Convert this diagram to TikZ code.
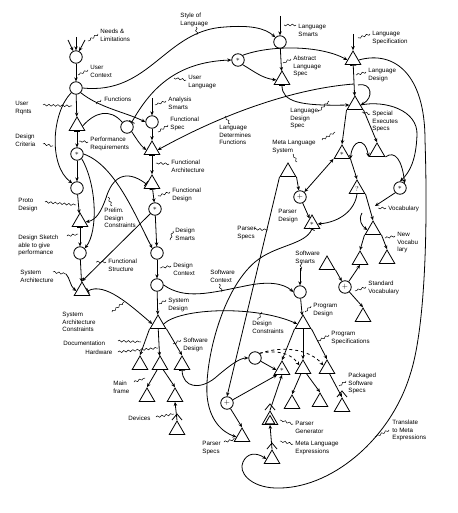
\documentclass[tikz,border=0pt]{standalone}
\usepackage{fontspec}
\setsansfont{Liberation Sans}
\usetikzlibrary{arrows.meta,shapes.geometric,decorations.pathmorphing}
\tikzset{
 circ/.style={circle,draw,minimum size=12.5pt,inner sep=0pt},
 tri/.style={regular polygon,regular polygon sides=3,draw,minimum size=18pt,inner sep=0pt},
 lbl/.style={font=\sffamily\fontsize{6.2}{7.4}\selectfont,align=left,anchor=north west,inner sep=0pt},
 arr/.style={-{Stealth[length=4pt,width=3.5pt]}},
 barr/.style={{Bar[width=6pt]}-{Stealth[length=4pt,width=3.5pt]}},
 dblarr/.style={{Stealth[length=4pt,width=3.5pt]}-{Stealth[length=4pt,width=3.5pt]}},
 lead/.style={decorate,decoration={snake,amplitude=0.9pt,segment length=4.5pt},line width=0.5pt},
 sym/.style={font=\fontsize{7}{7}\selectfont}
}
\newcommand{\chev}[2]{\draw (#1-5,#2-10) -- (#1,#2-16) -- (#1+5,#2-10);}
\begin{document}
\begin{tikzpicture}[x=1pt,y=-1pt,line width=0.8pt]
\useasboundingbox (0,0) rectangle (457,513);
% ---- nodes: left column
\node[circ] (c1) at (76,57) {};
\node[circ] (c2) at (76,88) {};
\node[tri] (t1) at (77,126) {};
\node[circ,sym] (c3) at (77,154) {$\ast$};
\node[circ] (c4) at (77,188) {};
\node[tri] (t2) at (80,222) {};
\node[circ] (c5) at (80,253) {};
\node[tri] (t3) at (82,291) {};
% ---- middle column
\node[circ] (c6) at (152,122) {};
\node[circ] (c7) at (127,127) {};
\node[tri] (t4) at (152,150) {};
\node[tri] (t5) at (152,184) {};
\node[circ,sym] (c8) at (155,209) {$\ast$};
\node[circ] (c9) at (157,253) {};
\node[circ] (c10) at (157,285) {};
\node[tri] (t6) at (158,324) {};
\node[tri] (t6a) at (140,365) {};
\node[tri] (t6b) at (160,365) {};
\node[tri] (t6c) at (182,365) {};
\node[tri] (t6d) at (147,397) {};
\node[tri] (t6e) at (175,397) {};
\node[tri] (t6f) at (177,430) {};
\chev{177}{430}
% ---- language part
\node[circ] (c11) at (280,42) {};
\node[circ,sym] (c12) at (238,60) {$\ast$};
\node[tri] (t7) at (282,80) {};
\node[tri] (t8) at (353,60) {};
\node[tri] (t9) at (355,105) {};
\node[tri,sym] (t10) at (342,154) {$\ast$};
\node[tri] (t11) at (377,152) {};
\node[tri] (t12) at (288,172) {};
\node[tri,sym] (t13) at (357,189) {?};
\node[circ,sym] (c13) at (300,197) {+};
\node[circ,sym] (c14) at (400,188) {$\ast$};
\node[tri,sym] (t14) at (312,224) {$\ast$};
\node[tri] (t15) at (373,230) {};
\node[tri] (t16) at (360,260) {};
\node[tri] (t17) at (387,259) {};
\node[tri] (t18) at (327,265) {};
\node[circ,sym] (c15) at (345,287) {+};
\node[tri] (t19) at (363,317) {};
% ---- program part
\node[circ] (c16) at (300,292) {};
\node[tri] (t20) at (303,324) {};
\node[circ] (c17) at (255,358) {};
\node[tri,sym] (t20a) at (282,370) {$\ast$};
\node[tri] (t20b) at (303,369) {};
\node[tri] (t20c) at (327,369) {};
\node[tri] (t20d) at (292,404) {};
\node[tri] (t20e) at (320,402) {};
\node[tri] (t20f) at (342,407) {};
\chev{342}{407}
\node[circ,sym] (c18) at (227,403) {+};
\node[tri] (t21) at (242,437) {};
\node[tri] (t22) at (270,420) {};
\node[tri,minimum size=11pt] (t22i) at (270,421) {};
\chev{270}{420}
\node[tri] (t23) at (272,459) {};
\chev{272}{459}
% ---- free coordinates
\coordinate (in1) at (68,40);
\coordinate (in2) at (76,37);
\coordinate (in3) at (85,40);
\coordinate (inAS) at (152,98);
\coordinate (inLS) at (280,16);
\coordinate (inLSp) at (353,34);
\coordinate (inSS) at (300,268);
\coordinate (ldf) at (354,84);
\coordinate (voc) at (375,206);
% ---- labels
\node[lbl] (l1) at (100,29) {Needs \&\\Limitations};
\node[lbl] (l2) at (180,13) {Style of\\Language};
\node[lbl] (l3) at (90,65) {User\\Context};
\node[lbl] (l4) at (188,75) {User\\Language};
\node[lbl] (l5) at (15,101) {User\\Rqnts};
\node[lbl] (l6) at (104,97) {Functions};
\node[lbl] (l7) at (168,97) {Analysis\\Smarts};
\node[lbl] (l8) at (170,117) {Functional\\Spec};
\node[lbl] (l9) at (15,134) {Design\\Criteria};
\node[lbl] (l10) at (90,137) {Performance\\Requirements};
\node[lbl] (l11) at (171,160) {Functional\\Architecture};
\node[lbl] (l12) at (172,188) {Functional\\Design};
\node[lbl] (l13) at (219,125) {Language\\Determines\\Functions};
\node[lbl] (l14) at (18,198) {Proto\\Design};
\node[lbl] (l15) at (104,208) {Prelim.\\Design\\Constraints};
\node[lbl] (l16) at (175,228) {Design\\Smarts};
\node[lbl] (l17) at (18,235) {Design Sketch\\able to give\\performance};
\node[lbl] (l18) at (108,259) {Functional\\Structure};
\node[lbl] (l19) at (20,270) {System\\Architecture};
\node[lbl] (l20) at (173,263) {Design\\Context};
\node[lbl] (l21) at (168,298) {System\\Design};
\node[lbl] (l22) at (62,312) {System\\Architecture\\Constraints};
\node[lbl] (l23) at (63,341) {Documentation};
\node[lbl] (l24) at (85,350) {Hardware};
\node[lbl] (l25) at (183,338) {Software\\Design};
\node[lbl] (l26) at (113,381) {Main\\frame};
\node[lbl] (l27) at (128,416) {Devices};
\node[lbl] (l28) at (298,24) {Language\\Smarts};
\node[lbl] (l29) at (293,56) {Abstract\\Language\\Spec};
\node[lbl] (l30) at (372,31) {Language\\Specification};
\node[lbl] (l31) at (368,68) {Language\\Design};
\node[lbl] (l32) at (372,111) {Special\\Executes\\Specs};
\node[lbl] (l33) at (290,108) {Language\\Design\\Spec};
\node[lbl] (l34) at (272,140) {Meta Language\\System};
\node[lbl] (l35) at (278,209) {Parser\\Design};
\node[lbl] (l36) at (388,206) {Vocabulary};
\node[lbl] (l37) at (237,226) {Parser\\Specs};
\node[lbl] (l38) at (397,232) {New\\Vocabu\\lary};
\node[lbl] (l39) at (295,251) {Software\\Smarts};
\node[lbl] (l40) at (368,281) {Standard\\Vocabulary};
\node[lbl] (l41) at (313,303) {Program\\Design};
\node[lbl] (l42) at (252,321) {Design\\Constraints};
\node[lbl] (l43) at (331,331) {Program\\Specifications};
\node[lbl] (l44) at (348,373) {Packaged\\Software\\Specs};
\node[lbl] (l45) at (295,421) {Parser\\Generator};
\node[lbl] (l46) at (295,441) {Meta Language\\Expressions};
\node[lbl] (l47) at (392,420) {Translate\\to Meta\\Expressions};
\node[lbl] (l48) at (202,441) {Parser\\Specs};
\node[lbl] (l49) at (210,270) {Software\\Context};
% ---- leaders
\draw[lead] (98,34) -- (88,41);
\draw[lead] (196,27) -- (197,35);
\draw[lead] (88,70) -- (78,75);
\draw[lead] (186,80) -- (174,78);
\draw[lead] (43,105) -- (72,106);
\draw[lead] (101,100) -- (96,104);
\draw[lead] (166,101) -- (155,105);
\draw[lead] (168,125) -- (158,132);
\draw[lead] (43,144) -- (53,146);
\draw[lead] (88,142) -- (79,141);
\draw[lead] (169,164) -- (156,163);
\draw[lead] (170,192) -- (158,196);
\draw[lead] (230,124) -- (225,116);
\draw[lead] (45,202) -- (76,205);
\draw[lead] (112,206) -- (108,197);
\draw[lead] (173,231) -- (170,240);
\draw[lead] (67,236) -- (78,234);
\draw[lead] (106,262) -- (96,262);
\draw[lead] (53,272) -- (66,274);
\draw[lead] (171,266) -- (160,268);
\draw[lead] (166,300) -- (159,304);
\draw[lead] (112,312) -- (124,302);
\draw[lead] (118,341) -- (141,342);
\draw[lead] (118,352) -- (158,348);
\draw[lead] (181,340) -- (173,344);
\draw[lead] (134,382) -- (145,378);
\draw[lead] (156,417) -- (174,414);
\draw[lead] (296,25) -- (284,25);
\draw[lead] (291,59) -- (283,63);
\draw[lead] (370,34) -- (358,38);
\draw[lead] (366,72) -- (356,75);
\draw[lead] (370,114) -- (362,112);
\draw[lead] (318,112) -- (329,101);
\draw[lead] (322,140) -- (335,132);
\draw[lead] (297,162) -- (293,154);
\draw[lead] (386,208) -- (378,208);
\draw[lead] (254,229) -- (268,230);
\draw[lead] (395,236) -- (385,238);
\draw[lead] (301,262) -- (301,271);
\draw[lead] (366,287) -- (355,291);
\draw[lead] (311,306) -- (305,312);
\draw[lead] (258,320) -- (262,312);
\draw[lead] (329,335) -- (318,341);
\draw[lead] (346,381) -- (339,386);
\draw[lead] (293,424) -- (280,420);
\draw[lead] (293,444) -- (280,441);
\draw[lead] (389,430) -- (375,437);
\draw[lead] (224,442) -- (236,439);
\draw[lead] (219,284) -- (222,292);
% ---- connectors: left column
\draw[arr] (in1) -- (c1);
\draw[arr] (in2) -- (c1);
\draw[arr] (in3) -- (c1);
\draw[arr] (c1) -- (c2);
\draw[arr] (c2) -- (t1);
\draw[arr] (c2.south west) .. controls (52,112) and (48,165) .. (c4.north west);
\draw[arr] (c2.south east) .. controls (100,108) and (125,112) .. (c6.west);
\draw[arr] (c2.east) .. controls (150,95) and (165,30) .. (225,27) .. controls (250,25) and (265,28) .. (c11.north west);
\draw[barr] (t1) -- (c3);
\draw (t1.east) .. controls (95,112) and (110,108) .. (c7.north west);
\draw[arr] (c7.south east) .. controls (136,138) and (140,145) .. (t4.west);
\draw[barr] (c7.north east) .. controls (150,90) and (175,62) .. (c12.west);
\draw[arr] (inAS) -- (c6);
\draw[arr] (c6) -- (t4);
\draw[arr] (ldf) .. controls (300,88) and (230,110) .. (t4.east);
\draw[barr] (t4) -- (t5);
\draw[barr] (t5) -- (c8);
\draw[barr] (t5.west) .. controls (125,168) and (112,178) .. (106,198) .. controls (101,212) and (96,220) .. (t2.east);
\draw[arr] (c3) -- (c4);
\draw[arr] (c4) -- (t2);
\draw[barr] (t2) -- (c5);
\draw[arr] (c3.south east) .. controls (97,185) and (98,232) .. (c5.north east);
\draw[arr] (c3.east) .. controls (115,165) and (135,215) .. (c9.north west);
\draw[arr] (c8.south west) -- (t3.north);
\draw[arr] (c5) -- (t3);
\draw[arr] (66,274) .. controls (70,278) and (70,286) .. (t3.west);
\draw[arr] (c8) -- (c9);
\draw[arr] (c9) -- (c10);
\draw[arr] (c10) -- (t6);
\draw[barr] (t3.east) .. controls (105,282) and (130,305) .. (t6.west);
\draw[arr] (c10.east) .. controls (185,300) and (210,293) .. (245,286) .. controls (268,281) and (283,283) .. (c16.west);
\draw[arr] (t6.east) .. controls (180,308) and (255,305) .. (t20.west);
\draw[arr] (t6.corner 2) -- (t6a.corner 1);
\draw[arr] (t6) -- (t6b);
\draw[arr] (t6.corner 3) -- (t6c.corner 1);
\draw[arr] (t6b) -- (t6d.corner 1);
\draw[arr] (t6b) -- (t6e.corner 1);
\draw[arr] (t6f.corner 1) -- (t6e.south);
\draw[barr] (t6c.south) .. controls (183,388) and (200,390) .. (215,378) .. controls (230,365) and (240,358) .. (c17.west);
% ---- language part
\draw[arr] (inLS) -- (c11);
\draw[arr] (c11) -- (t7);
\draw[arr] (c12.south east) .. controls (255,72) and (262,78) .. (t7.west);
\draw[arr] (c12.north east) .. controls (270,45) and (320,45) .. (t8.west);
\draw[barr] (t7.south) .. controls (282,102) and (300,106) .. (t9.west);
\draw[arr] (inLSp) -- (t8);
\draw[barr] (t8) -- (t9);
\draw[arr] (358,85) .. controls (372,82) and (374,98) .. (t9.east);
\draw[arr] (t8.east) .. controls (395,50) and (425,75) .. (425,140) .. controls (428,230) and (425,330) .. (410,375) .. controls (390,440) and (330,490) .. (275,488) .. controls (250,487) and (238,472) .. (243,462) .. controls (247,453) and (256,452) .. (t23.west);
\draw[arr] (t9.east) .. controls (385,100) and (418,110) .. (417,135) .. controls (416,160) and (410,172) .. (c14.north);
\draw[arr] (t9.corner 2) -- (t10.corner 1);
\draw[arr] (t9.corner 3) -- (t11.corner 1);
\draw[dblarr] (t10.corner 3) .. controls (352,140) and (365,136) .. (t11.corner 2);
\draw[arr] (t11.corner 3) .. controls (395,150) and (402,160) .. (c14.north east);
\draw[dblarr] (t10.corner 2) -- (c13);
\draw[arr] (t10.corner 3) -- (t13.corner 1);
\draw[arr] (t12.corner 3) -- (c13);
\draw[arr] (c13) -- (t14);
\draw[arr] (t13.south) .. controls (355,210) and (340,222) .. (t14.east);
\draw[arr] (t13.corner 3) -- (t15.corner 1);
\draw[arr] (c14.south west) -- (voc);
\draw[arr] (362,213) .. controls (358,220) and (362,226) .. (t15.west);
\draw[arr] (t15.corner 2) -- (t16.corner 1);
\draw[arr] (t15.corner 3) -- (t17.corner 1);
\draw[arr] (t18.corner 3) -- (c15);
\draw[arr] (c15) -- (t16.south);
\draw[arr] (c15) -- (t19.corner 1);
\draw[arr] (t12.corner 2) -- (c18.north);
\draw[barr] (t14.south) .. controls (305,245) and (275,245) .. (255,262) .. controls (222,290) and (205,360) .. (207,395) .. controls (209,420) and (222,432) .. (t21.west);
% ---- program part
\draw[arr] (inSS) -- (c16);
\draw[arr] (c16) -- (t20);
\draw[arr] (t20.corner 2) -- (t20a.corner 1);
\draw[arr] (t20) -- (t20b);
\draw[arr] (t20.corner 3) -- (t20c.corner 1);
\draw[arr] (c17) -- (t20a.west);
\draw[arr,dashed] (c17.north east) .. controls (275,350) and (290,352) .. (t20b.north west);
\draw[arr,dashed] (c17.north east) .. controls (285,345) and (310,350) .. (t20c.north west);
\draw[arr] (t20b) -- (t20d.corner 1);
\draw[arr] (t20b) -- (t20e.corner 1);
\draw[arr] (t20c) -- (t20f.corner 1);
\draw[arr] (c18) -- (t20a.south west);
\draw[arr] (c18) -- (t21.corner 1);
\draw[arr] (t22.corner 1) -- (t20a.south);
\draw[arr] (t23.corner 1) -- (t22.south);
\end{tikzpicture}
\end{document}
